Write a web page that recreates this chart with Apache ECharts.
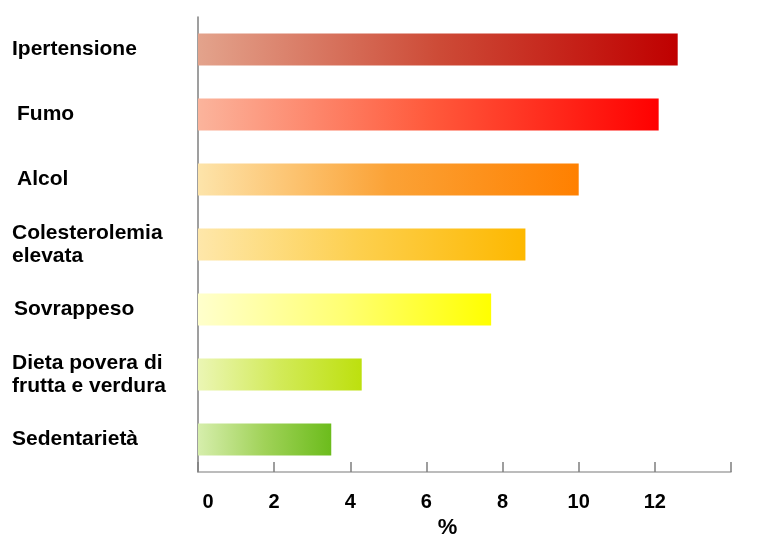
<!DOCTYPE html>
<html>
<head>
<meta charset="utf-8">
<script src="https://cdn.jsdelivr.net/npm/echarts@6/dist/echarts.min.js"></script>
<style>
  html, body { margin: 0; padding: 0; background: #fff; }
  #chart { width: 757px; height: 536px; }
</style>
</head>
<body>
<div id="chart"></div>
<script>
// Risk factors, top to bottom
const categories = [
  'Ipertensione',
  'Fumo',
  'Alcol',
  'Colesterolemia\nelevata',
  'Sovrappeso',
  'Dieta povera di\nfrutta e verdura',
  'Sedentarietà'
];
// Percent values
const values = [12.6, 12.1, 10.0, 8.6, 7.7, 4.3, 3.5];
// X axis tick labels (the last tick carries no label)
const tickLabels = ['0', '2', '4', '6', '8', '10', '12', ''];
const axisName = '%';

// Left-to-right gradient stops for each bar
const barGradients = [
  ['#e3a38c', '#cd4b37', '#bf0000'],
  ['#fbb49c', '#ff5a3c', '#ff0000'],
  ['#fde4aa', '#fba236', '#ff8000'],
  ['#fee7aa', '#fdcf4c', '#fdb800'],
  ['#ffffcc', '#ffff72', '#ffff00'],
  ['#ebf6b4', '#d2ea58', '#bde00e'],
  ['#d6eeac', '#a0d258', '#6cbc1c']
];
// Small left indents of some category labels (px)
const labelIndent = [0, 5, 5, 0, 2, 0, 0];

const chart = echarts.init(document.getElementById('chart'));

const barData = values.map((v, i) => ({
  value: v,
  itemStyle: {
    color: new echarts.graphic.LinearGradient(0, 0, 1, 0, [
      { offset: 0, color: barGradients[i][0] },
      { offset: 0.5, color: barGradients[i][1] },
      { offset: 1, color: barGradients[i][2] }
    ])
  }
}));

const font = 'Liberation Sans, Arial, sans-serif';

chart.setOption({
  animation: false,
  backgroundColor: '#ffffff',
  grid: {
    left: 198, right: 26, top: 17, bottom: 64,
    containLabel: false,
    outerBoundsMode: 'none'
  },
  xAxis: {
    type: 'value',
    min: 0,
    max: 14,
    interval: 2,
    name: axisName,
    nameLocation: 'middle',
    nameGap: 40,
    nameTextStyle: {
      fontFamily: font,
      fontWeight: 'bold',
      fontSize: 22,
      color: '#000',
      padding: [0, 34, 0, 0]
    },
    axisLine: { show: true, lineStyle: { color: '#a6a6a6', width: 1.5 } },
    axisTick: { show: true, inside: true, length: 10, lineStyle: { color: '#7f7f7f', width: 1.5 } },
    splitLine: { show: false },
    axisLabel: {
      margin: 20,
      fontFamily: font,
      fontWeight: 'bold',
      fontSize: 20,
      color: '#000',
      formatter: (v) => {
        const t = tickLabels[Math.round(v / 2)] || '';
        return v === 0 ? '{z|' + t + '}' : t;
      },
      rich: {
        z: { fontFamily: font, fontWeight: 'bold', fontSize: 20, color: '#000', padding: [0, 0, 0, 20] }
      }
    }
  },
  yAxis: {
    type: 'category',
    data: categories,
    inverse: true,
    axisLine: { show: true, lineStyle: { color: '#7f7f7f', width: 1.5 } },
    axisTick: { show: false },
    splitLine: { show: false },
    axisLabel: {
      align: 'left',
      margin: 186,
      fontFamily: font,
      fontWeight: 'bold',
      fontSize: 21,
      lineHeight: 23,
      color: '#000',
      formatter: (v, i) => {
        const ind = labelIndent[i];
        return ind ? v.split('\n').map(s => '{i' + ind + '|}' + s).join('\n') : v;
      },
      rich: {
        i5: { width: 5 },
        i2: { width: 2 }
      }
    }
  },
  series: [{
    type: 'bar',
    data: barData,
    barWidth: 32,
    itemStyle: { borderWidth: 0 }
  }]
});
</script>
</body>
</html>
